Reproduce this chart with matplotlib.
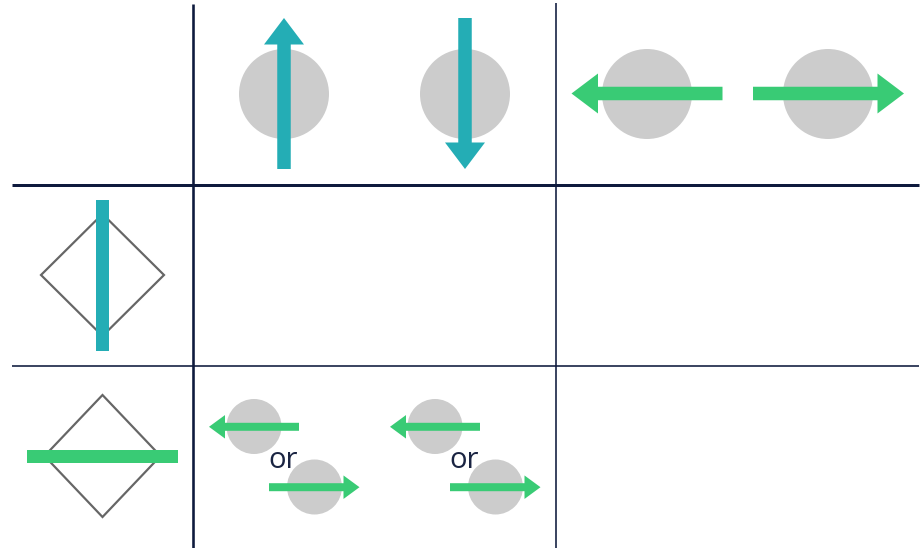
import matplotlib
matplotlib.use("Agg")
import matplotlib.pyplot as plt
from matplotlib.patches import Circle, Polygon, Rectangle

TEAL = "#24adb5"
GREEN = "#39cb75"
GRAY = "#cccccc"
EDGE = "#666666"
NAVY = "#0e1a3d"

# Grid lines: (x0, y0, x1, y1, width_px)
grid_lines = [
    (12, 184.5, 919, 184.5, 3.0),
    (12, 366, 919, 366, 1.6),
    (193, 4, 193, 548, 2.6),
    (556, 3, 556, 548, 1.6),
]

# Large circles (cx, cy, r)
big_circles = [(284, 94, 45), (465, 94, 45), (647, 94, 45), (828, 94, 45)]
# Large arrows (x_start, y_start, x_end, y_end, color)
big_arrows = [
    (284, 169, 284, 18, TEAL),
    (465, 18, 465, 169, TEAL),
    (722.5, 93.5, 571.5, 93.5, GREEN),
    (753, 93.5, 904, 93.5, GREEN),
]

# Diamonds (cx, cy, half_w, half_h)
diamonds = [(102.5, 275, 61.5, 61), (102.5, 456, 58, 61)]
# Bars (x0, y0, w, h, color)
bars = [(96, 199.5, 13, 151.5, TEAL), (27, 450, 151, 13, GREEN)]

# Small circles and arrows in bottom cell
small_circles = [(254, 426.5, 27.5), (314.5, 487, 27.5),
                 (435, 426.5, 27.5), (495.5, 487, 27.5)]
small_arrows = [
    (299, 426.8, 209, 426.8),
    (269, 487.2, 359.5, 487.2),
    (480, 426.8, 390, 426.8),
    (450, 487.2, 540.5, 487.2),
]
or_labels = [(283.5, 461, "or"), (464.5, 461, "or")]

fig = plt.figure(figsize=(9.24, 5.48), dpi=100)
ax = fig.add_axes([0, 0, 1, 1])
ax.set_xlim(0, 924)
ax.set_ylim(548, 0)
ax.axis("off")

px = 72 / 100.0
for x0, y0, x1, y1, w in grid_lines:
    ax.plot([x0, x1], [y0, y1], color=NAVY, lw=w * px, solid_capstyle="butt", zorder=1)

for cx, cy, r in big_circles:
    ax.add_patch(Circle((cx, cy), r, facecolor=GRAY, edgecolor="none", zorder=2))
for x0, y0, x1, y1, c in big_arrows:
    ax.arrow(x0, y0, x1 - x0, y1 - y0, width=13.5, head_width=40, head_length=26.5,
             length_includes_head=True, facecolor=c, edgecolor="none", zorder=3)

for cx, cy, hw, hh in diamonds:
    ax.add_patch(Polygon([(cx, cy - hh), (cx + hw, cy), (cx, cy + hh), (cx - hw, cy)],
                         closed=True, facecolor="none", edgecolor=EDGE, lw=2.2 * px, zorder=2))
for x0, y0, w, h, c in bars:
    ax.add_patch(Rectangle((x0, y0), w, h, facecolor=c, edgecolor="none", zorder=3))

for cx, cy, r in small_circles:
    ax.add_patch(Circle((cx, cy), r, facecolor=GRAY, edgecolor="none", zorder=2))
for x0, y0, x1, y1 in small_arrows:
    ax.arrow(x0, y0, x1 - x0, y1 - y0, width=8, head_width=23.5, head_length=16,
             length_includes_head=True, facecolor=GREEN, edgecolor="none", zorder=3)

for x, y, t in or_labels:
    ax.text(x, y, t, ha="center", va="center", fontsize=21, color="#1a2442",
            family=["Open Sans", "DejaVu Sans"], zorder=4)

fig.savefig("out.png", dpi=100)
